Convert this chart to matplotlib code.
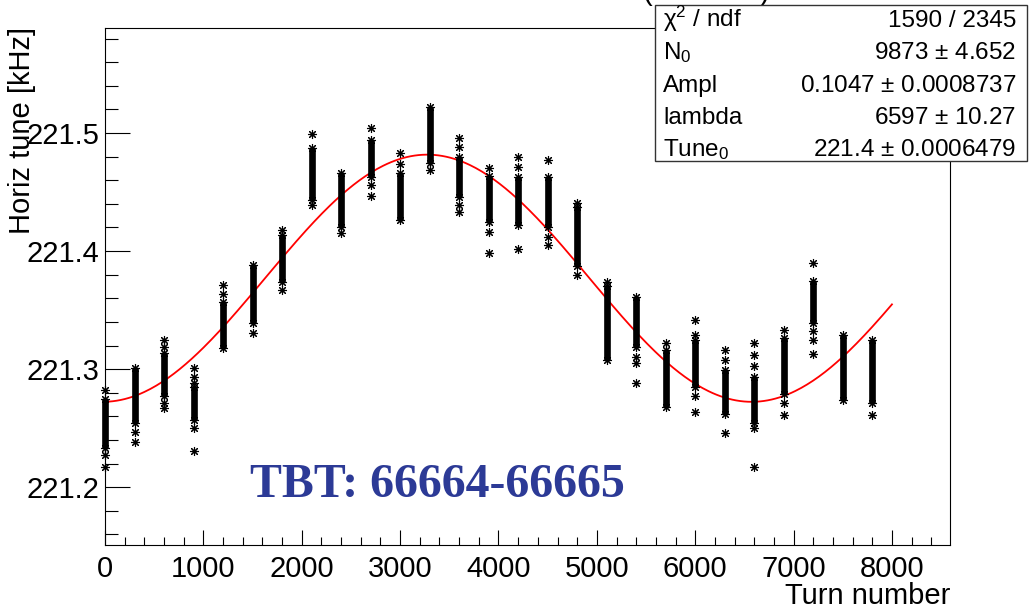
import numpy as np
import matplotlib
matplotlib.use("Agg")
import matplotlib.pyplot as plt
from matplotlib.patches import Rectangle

plt.rcParams['font.family'] = ['Liberation Sans', 'DejaVu Sans']
plt.rcParams['mathtext.fontset'] = 'custom'
plt.rcParams['mathtext.rm'] = 'Liberation Sans'
plt.rcParams['mathtext.it'] = 'Liberation Sans:italic'

# turn number of each TBT measurement group
turns = [0, 300, 600, 900, 1200, 1500, 1800, 2100, 2400, 2700, 3000, 3300, 3600,
         3900, 4200, 4500, 4800, 5100, 5400, 5700, 6000, 6300, 6600, 6900, 7200,
         7500, 7800]
# dense part of each group (kHz)
core_hi = [221.275, 221.301, 221.314, 221.285, 221.357, 221.388, 221.414, 221.487,
           221.466, 221.494, 221.466, 221.522, 221.480, 221.464, 221.463, 221.463,
           221.437, 221.370, 221.361, 221.316, 221.325, 221.299, 221.293, 221.326,
           221.375, 221.329, 221.325]
core_lo = [221.233, 221.254, 221.277, 221.257, 221.318, 221.339, 221.374, 221.443,
           221.420, 221.463, 221.426, 221.475, 221.446, 221.425, 221.422, 221.420,
           221.387, 221.308, 221.319, 221.268, 221.285, 221.262, 221.254, 221.279,
           221.339, 221.274, 221.271]
# isolated points of each group
strays = [
    [221.282, 221.227, 221.217],
    [221.247, 221.238],
    [221.325, 221.319, 221.271, 221.267],
    [221.301, 221.293, 221.288, 221.250, 221.231],
    [221.371, 221.364],
    [221.331],
    [221.418, 221.367],
    [221.499, 221.439],
    [221.415],
    [221.504, 221.456, 221.447],
    [221.483, 221.474],
    [221.469],
    [221.496, 221.488, 221.439, 221.433],
    [221.470, 221.416, 221.398],
    [221.480, 221.471, 221.402],
    [221.477, 221.412, 221.405],
    [221.441, 221.380],
    [221.374],
    [221.310, 221.305, 221.288],
    [221.322],
    [221.342, 221.329, 221.277, 221.264],
    [221.316, 221.308, 221.246],
    [221.322, 221.312, 221.303, 221.250, 221.217],
    [221.333, 221.271, 221.261],
    [221.390, 221.332, 221.325, 221.313],
    [],
    [221.261],
]

# fit results (stats box)
chi2, ndf = 1590, 2345
n0, n0_err = 9873, 4.652
ampl, ampl_err = 0.1047, 0.0008737
lam, lam_err = 6597, 10.27
tune0, tune0_err = 221.377, 0.0006479

W, H = 1032, 610
fig = plt.figure(figsize=(W / 100, H / 100), dpi=100)
ax = fig.add_axes([105 / W, 1 - 545 / H, 845 / W, 517 / H])

# fitted curve from the stats-box parameters
xf = np.linspace(0, 8000, 400)
ax.plot(xf, tune0 + ampl * np.cos(2 * np.pi * (xf - n0) / lam), color='red', lw=1.3, zorder=2)

ax.vlines(turns, core_lo, core_hi, color='k', lw=4.8, zorder=3, clip_on=False)
sx = [t for t, s in zip(turns, strays) for _ in s] + turns + turns
sy = [v for s in strays for v in s] + core_lo + core_hi
ax.plot(sx, sy, ls='none', marker=(8, 2, 0), ms=6.5, mec='k', mew=0.8, zorder=4,
        clip_on=False)

ax.set_xlim(0, 8590)
ax.set_ylim(221.151, 221.589)
ax.set_xticks(np.arange(0, 8001, 1000))
ax.set_xticks(np.arange(0, 8590, 200), minor=True)
ax.set_yticks([221.2, 221.3, 221.4, 221.5])
ax.set_yticks(np.arange(221.16, 221.589, 0.02), minor=True)
ax.set_yticklabels(['221.2', '221.3', '221.4', '221.5'])
ax.tick_params(axis='both', which='both', direction='in', labelsize=21, width=0.8,
               top=False, right=False)
ax.tick_params(axis='x', which='major', length=11, pad=7)
ax.tick_params(axis='x', which='minor', length=5.5)
ax.tick_params(axis='y', which='major', length=18, pad=4)
ax.tick_params(axis='y', which='minor', length=9)
for sp in ax.spines.values():
    sp.set_linewidth(0.8)

fig.text(950 / W, 1 - 604 / H, 'Turn number', fontsize=21, ha='right', va='baseline')
fig.text(8 / W, 1 - 27 / H, 'Horiz tune [kHz]', fontsize=21, rotation=90,
         ha='left', va='top')

ax.text(1474, 221.1915, 'TBT: 66664-66665', fontsize=34.5, fontweight='bold',
        family='Liberation Serif', color='#2c3a96', ha='left', va='baseline', zorder=5)

# title, mostly outside the canvas
fig.text(642 / W, 1.0, '(', fontsize=21, ha='left', va='baseline')
fig.text(770 / W, 1.0, ')', fontsize=21, ha='right', va='baseline')

# stats box
fig.add_artist(Rectangle((655 / W, 1 - 161 / H), 372 / W, 156 / H, transform=fig.transFigure,
                         facecolor='white', edgecolor='#333333', lw=1.0, zorder=5))
rows = [
    ('χ$^{2}$ / ndf', f'{chi2} / {ndf}'),
    ('N$_{0}$', f'{n0} $\\pm$ {n0_err}'),
    ('Ampl', f'{ampl} $\\pm$ {ampl_err}'),
    ('lambda', f'{lam} $\\pm$ {lam_err}'),
    ('Tune$_{0}$', f'{tune0:.4g} $\\pm$ {tune0_err}'),
]
baselines = [27, 59, 92, 124, 156]
for (lab, val), yb in zip(rows, baselines):
    fig.text(663 / W, 1 - yb / H, lab, fontsize=17.5, ha='left', va='baseline', zorder=6)
    fig.text(1016 / W, 1 - yb / H, val, fontsize=17.5, ha='right', va='baseline', zorder=6)

fig.savefig('out.png', dpi=100)
